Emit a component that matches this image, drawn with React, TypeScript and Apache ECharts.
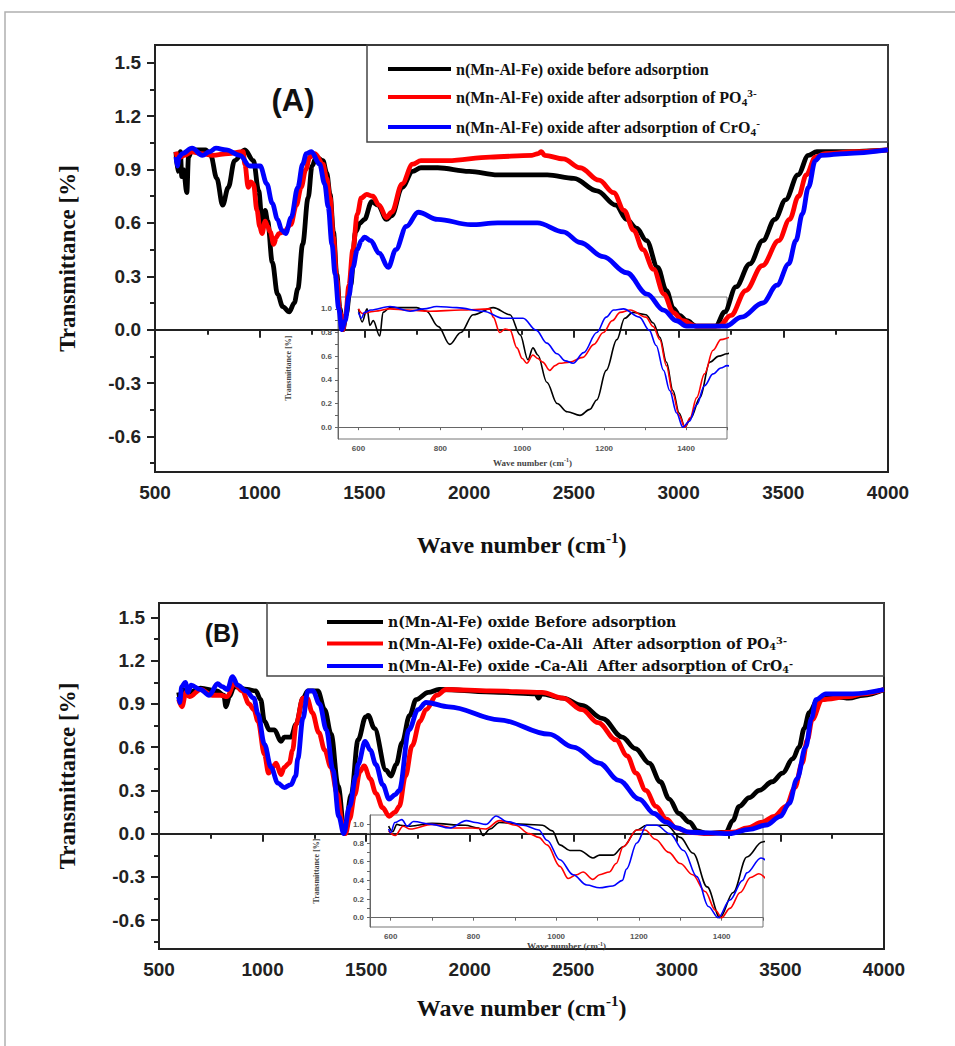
import React, { useEffect, useRef } from 'react';
import * as echarts from 'echarts';

// ---------------- data: [wavenumber (cm-1), transmittance] ----------------
const A_BEFORE: [number, number][] = [
  [600, 1.0], [609, 0.89], [621, 1.0], [628, 0.86], [636, 0.9], [652, 0.77], [660, 0.97], [677, 1.01],
  [742, 1.01], [766, 0.98], [795, 0.85], [823, 0.7], [850, 0.8], [880, 0.95], [929, 1.01], [970, 0.95],
  [995, 0.78], [1014, 0.57], [1026, 0.67], [1038, 0.61], [1060, 0.38], [1085, 0.2], [1110, 0.13],
  [1141, 0.1], [1165, 0.15], [1182, 0.23], [1205, 0.48], [1231, 0.74], [1250, 0.92], [1270, 0.97],
  [1302, 0.95], [1320, 0.88], [1336, 0.76], [1352, 0.55], [1368, 0.31], [1383, 0.12], [1397, 0.0],
  [1412, 0.08], [1434, 0.25], [1458, 0.55], [1480, 0.6], [1500, 0.62], [1535, 0.72], [1565, 0.7],
  [1605, 0.62], [1630, 0.64], [1680, 0.8], [1730, 0.89], [1770, 0.91], [1850, 0.91], [2000, 0.89],
  [2136, 0.87], [2373, 0.87], [2500, 0.85], [2610, 0.78], [2700, 0.7], [2752, 0.62], [2800, 0.57],
  [2847, 0.5], [2900, 0.35], [2942, 0.22], [2975, 0.12], [3004, 0.08], [3040, 0.05], [3084, 0.02],
  [3178, 0.02], [3220, 0.1], [3274, 0.24], [3340, 0.37], [3402, 0.5], [3460, 0.62], [3511, 0.73],
  [3570, 0.87], [3620, 0.98], [3660, 1.0], [3800, 1.0], [4000, 1.01],
];
const A_PO4: [number, number][] = [
  [600, 1.0], [610, 0.96], [621, 0.97], [640, 0.98], [677, 1.0], [720, 0.99], [775, 0.98], [850, 0.99],
  [921, 1.0], [929, 0.93], [945, 0.8], [958, 0.83], [970, 0.82], [987, 0.67], [1000, 0.58], [1011, 0.54],
  [1026, 0.61], [1038, 0.58], [1050, 0.55], [1067, 0.48], [1080, 0.52], [1091, 0.54], [1116, 0.55],
  [1148, 0.59], [1175, 0.7], [1198, 0.8], [1220, 0.9], [1239, 0.97], [1264, 0.99], [1302, 0.93],
  [1320, 0.85], [1336, 0.74], [1352, 0.52], [1368, 0.28], [1383, 0.1], [1397, 0.0], [1410, 0.08],
  [1426, 0.25], [1445, 0.45], [1466, 0.65], [1485, 0.74], [1510, 0.76], [1540, 0.75], [1570, 0.7],
  [1605, 0.63], [1630, 0.66], [1680, 0.82], [1730, 0.93], [1770, 0.95], [1899, 0.95], [2100, 0.97],
  [2300, 0.98], [2330, 0.99], [2345, 1.0], [2360, 0.98], [2450, 0.96], [2530, 0.91], [2620, 0.84],
  [2690, 0.77], [2740, 0.67], [2785, 0.56], [2830, 0.45], [2880, 0.34], [2930, 0.2], [2975, 0.095],
  [3020, 0.05], [3084, 0.02], [3193, 0.02], [3250, 0.08], [3321, 0.22], [3400, 0.36], [3478, 0.5],
  [3530, 0.62], [3573, 0.75], [3610, 0.87], [3653, 0.97], [3700, 0.99], [3850, 1.0], [4000, 1.01],
];
const A_CRO4: [number, number][] = [
  [600, 0.97], [607, 0.92], [615, 0.97], [630, 0.99], [677, 1.02], [726, 0.98], [760, 1.0], [791, 1.02],
  [840, 1.01], [905, 0.98], [953, 0.92], [1002, 0.92], [1034, 0.82], [1060, 0.71], [1085, 0.62],
  [1105, 0.56], [1124, 0.54], [1150, 0.63], [1182, 0.8], [1205, 0.93], [1223, 0.99], [1247, 1.0],
  [1286, 0.93], [1310, 0.82], [1327, 0.69], [1345, 0.48], [1360, 0.31], [1377, 0.12], [1392, 0.0],
  [1408, 0.05], [1426, 0.19], [1445, 0.35], [1466, 0.45], [1485, 0.5], [1500, 0.52], [1530, 0.5],
  [1570, 0.43], [1614, 0.35], [1650, 0.45], [1700, 0.58], [1757, 0.66], [1850, 0.62], [2008, 0.59],
  [2136, 0.6], [2326, 0.6], [2450, 0.55], [2530, 0.49], [2640, 0.41], [2752, 0.32], [2850, 0.2],
  [2928, 0.11], [2990, 0.05], [3037, 0.02], [3226, 0.02], [3300, 0.07], [3402, 0.15], [3470, 0.25],
  [3526, 0.37], [3560, 0.5], [3591, 0.65], [3620, 0.8], [3653, 0.95], [3680, 0.98], [3800, 0.99],
  [4000, 1.01],
];
const B_BEFORE: [number, number][] = [
  [595, 0.98], [605, 0.92], [615, 1.0], [623, 0.99], [647, 0.98], [700, 1.01], [780, 0.99], [813, 0.96],
  [823, 0.88], [840, 0.95], [863, 1.02], [926, 1.0], [967, 0.99], [991, 0.93], [1009, 0.78], [1033, 0.72],
  [1057, 0.72], [1089, 0.64], [1105, 0.67], [1137, 0.67], [1162, 0.76], [1195, 0.94], [1219, 0.99],
  [1267, 0.99], [1300, 0.86], [1331, 0.69], [1365, 0.33], [1396, 0.0], [1428, 0.27], [1461, 0.65],
  [1498, 0.81], [1510, 0.82], [1540, 0.73], [1596, 0.44], [1620, 0.4], [1645, 0.48], [1673, 0.63],
  [1710, 0.82], [1741, 0.93], [1800, 0.98], [1852, 1.0], [2142, 0.98], [2320, 0.97], [2333, 0.94],
  [2345, 0.97], [2450, 0.94], [2542, 0.89], [2640, 0.8], [2736, 0.67], [2800, 0.59], [2866, 0.49],
  [2920, 0.36], [2963, 0.24], [3010, 0.14], [3060, 0.08], [3100, 0.02], [3140, 0.0], [3237, 0.01],
  [3270, 0.09], [3301, 0.19], [3350, 0.25], [3398, 0.3], [3460, 0.36], [3510, 0.42], [3560, 0.52],
  [3590, 0.6], [3615, 0.73], [3639, 0.84], [3680, 0.93], [3719, 0.96], [3830, 0.94], [3900, 0.96],
  [4000, 1.0],
];
const B_PO4: [number, number][] = [
  [595, 0.93], [611, 0.88], [630, 0.98], [647, 0.95], [700, 1.0], [758, 0.96], [797, 0.96], [829, 0.95],
  [863, 1.04], [902, 0.99], [935, 0.9], [958, 0.86], [978, 0.78], [1009, 0.55], [1029, 0.42], [1049, 0.46],
  [1065, 0.49], [1089, 0.41], [1105, 0.46], [1129, 0.49], [1145, 0.58], [1162, 0.76], [1195, 0.94],
  [1215, 0.94], [1240, 0.84], [1272, 0.7], [1300, 0.58], [1330, 0.46], [1360, 0.28], [1385, 0.08],
  [1400, 0.0], [1420, 0.1], [1445, 0.27], [1470, 0.43], [1490, 0.47], [1520, 0.38], [1547, 0.28],
  [1580, 0.18], [1611, 0.12], [1640, 0.15], [1660, 0.19], [1690, 0.4], [1722, 0.61], [1760, 0.78],
  [1789, 0.86], [1840, 0.96], [1886, 1.0], [2100, 0.99], [2349, 0.98], [2450, 0.94], [2542, 0.86],
  [2620, 0.77], [2707, 0.65], [2760, 0.54], [2803, 0.42], [2850, 0.3], [2900, 0.19], [2950, 0.1],
  [2996, 0.04], [3060, 0.01], [3140, 0.0], [3270, 0.01], [3340, 0.04], [3412, 0.08], [3470, 0.12],
  [3527, 0.19], [3570, 0.32], [3605, 0.49], [3630, 0.65], [3653, 0.79], [3701, 0.93], [3830, 0.95],
  [3900, 0.97], [4000, 1.0],
];
const B_CRO4: [number, number][] = [
  [595, 0.95], [600, 0.91], [610, 1.02], [627, 1.05], [640, 0.98], [655, 1.03], [700, 1.0], [742, 0.96],
  [783, 1.04], [805, 1.02], [830, 1.0], [855, 1.09], [880, 1.03], [920, 0.99], [958, 0.94], [978, 0.83],
  [1009, 0.62], [1041, 0.46], [1074, 0.35], [1105, 0.32], [1137, 0.34], [1160, 0.4], [1170, 0.52],
  [1195, 0.8], [1219, 0.99], [1243, 0.99], [1275, 0.9], [1308, 0.72], [1340, 0.44], [1368, 0.12],
  [1392, 0.0], [1420, 0.19], [1451, 0.4], [1461, 0.48], [1495, 0.64], [1520, 0.58], [1547, 0.48],
  [1580, 0.34], [1611, 0.24], [1640, 0.27], [1660, 0.3], [1707, 0.72], [1750, 0.86], [1789, 0.91],
  [1900, 0.88], [2142, 0.79], [2383, 0.69], [2500, 0.6], [2625, 0.49], [2720, 0.37], [2818, 0.24],
  [2890, 0.14], [2948, 0.08], [3000, 0.04], [3060, 0.01], [3253, 0.0], [3350, 0.03], [3431, 0.06],
  [3500, 0.12], [3542, 0.21], [3580, 0.38], [3622, 0.6], [3650, 0.8], [3672, 0.93], [3719, 0.97],
  [3850, 0.97], [4000, 1.0],
];

// ---------------- ticks ----------------
const MAIN_Y_LABELS = [-0.6, -0.3, 0, 0.3, 0.6, 0.9, 1.2, 1.5];
const MAIN_Y_MINOR = [-0.75, -0.45, -0.15, 0.15, 0.45, 0.75, 1.05, 1.35];
const INSET_X_LABELS = [600, 800, 1000, 1200, 1400];
const INSET_X_TICKS = [600, 700, 800, 900, 1000, 1100, 1200, 1300, 1400, 1500];
const INSET_Y_LABELS = [0, 0.2, 0.4, 0.6, 0.8, 1.0];
const INSET_Y_TICKS = [0, 0.1, 0.2, 0.3, 0.4, 0.5, 0.6, 0.7, 0.8, 0.9, 1.0];

// ---------------- legend names ----------------
const NAMES_A = [
  'n(Mn-Al-Fe) oxide before adsorption',
  'n(Mn-Al-Fe) oxide after adsorption of PO43-',
  'n(Mn-Al-Fe) oxide after adsorption of CrO4-',
];
const NAMES_B = [
  'n(Mn-Al-Fe) oxide Before adsorption',
  'n(Mn-Al-Fe) oxide-Ca-Ali  After adsorption of PO43-',
  'n(Mn-Al-Fe) oxide -Ca-Ali  After adsorption of CrO4-',
];
const COLORS = ['#000000', '#ff0000', '#0000ff'];

const SERIF = '"Liberation Serif", "Times New Roman", serif';
const SANS = '"Liberation Sans", Arial, sans-serif';

function richName(name: string): string {
  if (name.endsWith('PO43-')) return `{t|${name.slice(0, -3)}}{sb|4}{sp|3-}`;
  if (name.endsWith('CrO4-')) return `{t|${name.slice(0, -2)}}{sb|4}{sp|-}`;
  return `{t|${name}}`;
}

const plain = (v: number) => String(v);

function mainAxes(grid: number, nameGapX: number, nameGapY: number) {
  const lineStyle = { color: '#222', width: 2 };
  const x = {
    type: 'value', gridIndex: grid, min: 500, max: 4000, interval: 500,
    axisLine: { show: true, lineStyle },
    axisTick: { show: true, inside: false, length: 8, lineStyle },
    minorTick: { show: true, splitNumber: 2, length: 5, lineStyle },
    axisLabel: { formatter: plain, fontFamily: SANS, fontWeight: 'bold', fontSize: 19, color: '#222', margin: 11 },
    splitLine: { show: false },
    name: '{t|Wave number (cm}{s|-1}{t|)}',
    nameLocation: 'middle', nameGap: nameGapX,
    nameTextStyle: {
      rich: {
        t: { fontFamily: SERIF, fontWeight: 'bold', fontSize: 24, lineHeight: 30, color: '#111' },
        s: { fontFamily: SERIF, fontWeight: 'bold', fontSize: 15, lineHeight: 15, verticalAlign: 'top', color: '#111' },
      },
    },
  };
  const y = {
    type: 'value', gridIndex: grid, min: -0.8, max: 1.6, position: 'left',
    axisLine: { show: true, lineStyle },
    axisTick: { show: true, inside: false, length: 8, lineStyle, customValues: MAIN_Y_LABELS },
    axisLabel: {
      customValues: MAIN_Y_LABELS, formatter: (v: number) => v.toFixed(1),
      fontFamily: SANS, fontWeight: 'bold', fontSize: 19, color: '#222', margin: 14,
    },
    splitLine: { show: false },
    name: 'Transmittance [%]', nameLocation: 'middle', nameGap: nameGapY, nameRotate: 90,
    nameTextStyle: { fontFamily: SERIF, fontWeight: 'bold', fontSize: 23, color: '#111' },
  };
  const yMinor = {
    type: 'value', gridIndex: grid, min: -0.8, max: 1.6, position: 'left',
    axisLine: { show: false },
    axisTick: { show: true, inside: false, length: 5, lineStyle, customValues: MAIN_Y_MINOR },
    axisLabel: { show: false },
    splitLine: { show: false },
  };
  return { x, y, yMinor };
}

function insetAxes(grid: number, nameGapX: number, nameGapY: number) {
  const lineStyle = { color: '#666', width: 1 };
  const x = {
    type: 'value', gridIndex: grid, min: 550, max: 1500,
    axisLine: { show: true, lineStyle },
    axisTick: { show: true, inside: false, length: 3, lineStyle, customValues: INSET_X_TICKS },
    axisLabel: {
      customValues: INSET_X_LABELS, formatter: plain,
      fontFamily: SANS, fontWeight: 'bold', fontSize: 8, color: '#555', margin: 5,
    },
    splitLine: { show: false },
    name: '{t|Wave number (cm}{s|-1}{t|)}', nameLocation: 'middle', nameGap: nameGapX,
    nameTextStyle: {
      rich: {
        t: { fontFamily: SERIF, fontWeight: 'bold', fontSize: 9, lineHeight: 11, color: '#444' },
        s: { fontFamily: SERIF, fontWeight: 'bold', fontSize: 6, lineHeight: 6, verticalAlign: 'top', color: '#444' },
      },
    },
  };
  const y = {
    type: 'value', gridIndex: grid, min: -0.1, max: 1.1, position: 'left',
    axisLine: { show: true, lineStyle },
    axisTick: { show: true, inside: false, length: 3, lineStyle, customValues: INSET_Y_TICKS },
    axisLabel: {
      customValues: INSET_Y_LABELS, formatter: (v: number) => v.toFixed(1),
      fontFamily: SANS, fontWeight: 'bold', fontSize: 8, color: '#555', margin: 6,
    },
    splitLine: { show: false },
    name: 'Transmittance [%]', nameLocation: 'middle', nameGap: nameGapY, nameRotate: 90,
    nameTextStyle: { fontFamily: SERIF, fontWeight: 'bold', fontSize: 8, color: '#444' },
  };
  return { x, y };
}

export default function App() {
  const ref = useRef<HTMLDivElement>(null);

  useEffect(() => {
    if (!ref.current) return;
    const chart = echarts.init(ref.current, undefined, { renderer: 'svg' });

    const mA = mainAxes(0, 58, 76);
    const iA = insetAxes(1, 18, 46);
    const mB = mainAxes(2, 44, 80);
    const iB = insetAxes(3, 12, 50);

    const dataA = [A_BEFORE, A_PO4, A_CRO4];
    const dataB = [B_BEFORE, B_PO4, B_CRO4];

    const series: any[] = [];
    const addSeries = (names: string[], data: [number, number][][], xi: number, yi: number, width: number, z: number) => {
      data.forEach((d, i) => {
        series.push({
          type: 'line', name: names[i], data: d, xAxisIndex: xi, yAxisIndex: yi,
          showSymbol: false, symbol: 'none', smooth: 0.35, smoothMonotone: 'x', clip: true, z,
          lineStyle: { color: COLORS[i], width },
          itemStyle: { color: COLORS[i] },
        });
      });
    };
    addSeries(NAMES_A, dataA, 1, 2, 1.6, 2);
    addSeries(NAMES_A, dataA, 0, 0, 4.8, 3);
    addSeries(NAMES_B, dataB, 3, 5, 1.6, 2);
    addSeries(NAMES_B, dataB, 2, 3, 4.8, 3);

    const legendRich = (size: number, family: string, lh: number) => ({
      t: { fontFamily: family, fontWeight: 'bold', fontSize: size, lineHeight: lh, color: '#111' },
      sb: { fontFamily: family, fontWeight: 'bold', fontSize: size * 0.7, lineHeight: size * 0.7, verticalAlign: 'bottom', color: '#111' },
      sp: { fontFamily: family, fontWeight: 'bold', fontSize: size * 0.7, lineHeight: size * 0.7, verticalAlign: 'top', color: '#111' },
    });

    const option: any = {
      animation: false,
      backgroundColor: '#ffffff',
      grid: [
        { left: 155, top: 45, width: 733, height: 427, show: true, borderColor: '#222', borderWidth: 2, containLabel: false },
        { left: 338, top: 297, width: 389, height: 142, show: true, borderColor: '#777', borderWidth: 1, containLabel: false },
        { left: 159, top: 603, width: 725, height: 346, show: true, borderColor: '#222', borderWidth: 2, containLabel: false },
        { left: 370, top: 815, width: 393, height: 112, show: true, borderColor: '#777', borderWidth: 1, containLabel: false },
      ],
      xAxis: [mA.x, iA.x, mB.x, iB.x],
      yAxis: [mA.y, mA.yMinor, iA.y, mB.y, mB.yMinor, iB.y],
      legend: [
        {
          data: NAMES_A, left: 383, top: 56, orient: 'vertical', itemGap: 10,
          itemWidth: 63, itemHeight: 4, icon: 'rect', selectedMode: false,
          formatter: richName,
          textStyle: { rich: legendRich(16, SERIF, 20) },
        },
        {
          data: NAMES_B, left: 322, top: 610, orient: 'vertical', itemGap: 6.5,
          itemWidth: 56, itemHeight: 4, icon: 'rect', selectedMode: false,
          formatter: richName,
          textStyle: { rich: legendRich(14, '"DejaVu Serif", serif', 16) },
        },
      ],
      graphic: [
        { type: 'rect', shape: { x: 5, y: 12, width: 1000, height: 1100 }, style: { fill: 'none', stroke: '#b0b0b0', lineWidth: 1.5 }, silent: true },
        { type: 'rect', shape: { x: 367, y: 45, width: 521, height: 97 }, style: { fill: 'none', stroke: '#444', lineWidth: 1.5 }, silent: true },
        { type: 'rect', shape: { x: 267, y: 603, width: 617, height: 73 }, style: { fill: 'none', stroke: '#444', lineWidth: 1.5 }, silent: true },
        { type: 'text', x: 293, y: 100, style: { text: '(A)', font: `bold 31px ${SANS}`, fill: '#111', align: 'center', verticalAlign: 'middle' }, silent: true },
        { type: 'text', x: 222, y: 633, style: { text: '(B)', font: `bold 25px ${SANS}`, fill: '#111', align: 'center', verticalAlign: 'middle' }, silent: true },
      ],
      series,
    };

    chart.setOption(option);
    return () => chart.dispose();
  }, []);

  return (
    <div
      ref={ref}
      style={{ position: 'absolute', left: 0, top: 0, width: 955, height: 1046, background: '#fff' }}
    />
  );
}
